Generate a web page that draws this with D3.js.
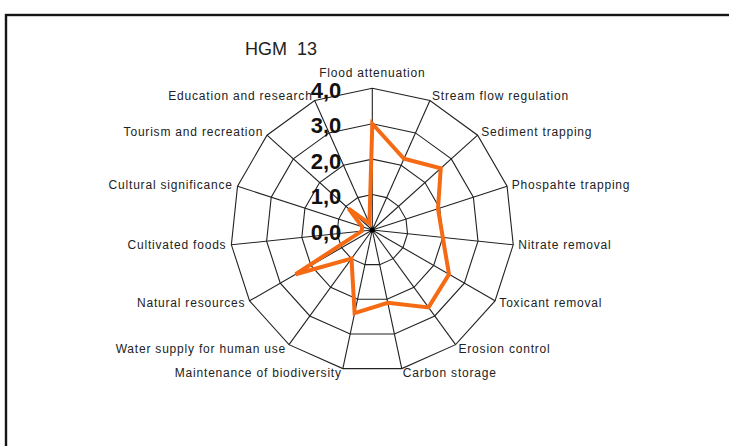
<!DOCTYPE html>
<html>
<head>
<meta charset="utf-8">
<script src="https://cdn.jsdelivr.net/npm/d3@7"></script>
<style>
  body { margin: 0; background: #fff; }
  svg { display: block; font-family: "Liberation Sans", Arial, sans-serif; }
</style>
</head>
<body>
<div id="chart"></div>
<script>
var services = [
  "Flood attenuation", "Stream flow regulation", "Sediment trapping",
  "Phospahte trapping", "Nitrate removal", "Toxicant removal",
  "Erosion control", "Carbon storage", "Maintenance of biodiversity",
  "Water supply for human use", "Natural resources", "Cultivated foods",
  "Cultural significance", "Tourism and recreation", "Education and research"
];
var scores = [3.0, 2.2, 2.6, 1.95, 2.0, 2.5, 2.7, 2.1, 2.4, 1.0, 2.5, 0.3, 0.3, 0.9, 0.2];
var ticks = [0, 1, 2, 3, 4];
var tickLabels = ["0,0", "1,0", "2,0", "3,0", "4,0"];
var chartTitle = "HGM  13";

var width = 729, height = 446;
var cx = 372.3, cy = 230;

var svg = d3.select("#chart").append("svg")
  .attr("width", width)
  .attr("height", height);

// outer frame (runs off the right and bottom of the picture)
svg.append("rect")
  .attr("x", 6).attr("y", 15)
  .attr("width", 760).attr("height", 470)
  .attr("fill", "none")
  .attr("stroke", "#151515")
  .attr("stroke-width", 2.4);

var r = d3.scaleLinear().domain([0, 4]).range([0, 141.7]);
var angle = function(i) { return i * 2 * Math.PI / services.length; };

var g = svg.append("g").attr("transform", "translate(" + cx + "," + cy + ")");

var ringLine = d3.lineRadial()
  .angle(function(d, i) { return angle(i); })
  .radius(function(d) { return r(d); })
  .curve(d3.curveLinearClosed);

// rings
g.selectAll(".ring")
  .data(ticks.slice(1))
  .enter()
  .append("path")
    .attr("class", "ring")
    .attr("d", function(t) { return ringLine(services.map(function() { return t; })); })
    .attr("fill", "none")
    .attr("stroke", "#222")
    .attr("stroke-width", 1.1);

// spokes
g.selectAll(".spoke")
  .data(services)
  .enter()
  .append("line")
    .attr("class", "spoke")
    .attr("x1", 0).attr("y1", 0)
    .attr("x2", function(d, i) { return Math.sin(angle(i)) * r(4); })
    .attr("y2", function(d, i) { return -Math.cos(angle(i)) * r(4); })
    .attr("stroke", "#222")
    .attr("stroke-width", 1.1);

g.append("circle").attr("r", 2.6).attr("fill", "#000");

// series
g.append("path")
  .attr("d", ringLine(scores))
  .attr("fill", "none")
  .attr("stroke", "#f56a12")
  .attr("stroke-width", 4)
  .attr("stroke-linejoin", "miter");

// category labels
g.selectAll(".cat")
  .data(services)
  .enter()
  .append("text")
    .attr("class", "cat")
    .attr("x", function(d, i) { return Math.sin(angle(i)) * (r(4) + 5); })
    .attr("y", function(d, i) {
      var c = Math.cos(angle(i));
      return i === 0 ? -r(4) - 15 : -c * r(4) - c * 5;
    })
    .attr("text-anchor", function(d, i) {
      var s = Math.sin(angle(i));
      return Math.abs(s) < 0.01 ? "middle" : (s > 0 ? "start" : "end");
    })
    .attr("dominant-baseline", "central")
    .style("font-size", "12px")
    .style("letter-spacing", "0.8px")
    .attr("fill", "#222")
    .text(function(d) { return d; });

// value axis labels
g.selectAll(".tick")
  .data(ticks)
  .enter()
  .append("text")
    .attr("class", "tick")
    .attr("x", -31)
    .attr("y", function(t) { return -r(t) + 2; })
    .attr("text-anchor", "end")
    .attr("dominant-baseline", "central")
    .style("font-size", "22px")
    .style("font-weight", "bold")
    .attr("fill", "#111")
    .text(function(t, i) { return tickLabels[i]; });

svg.append("text")
  .attr("x", 281).attr("y", 55)
  .attr("text-anchor", "middle")
  .style("font-size", "18px")
  .style("white-space", "pre")
  .attr("fill", "#222")
  .text(chartTitle);
</script>
</body>
</html>
